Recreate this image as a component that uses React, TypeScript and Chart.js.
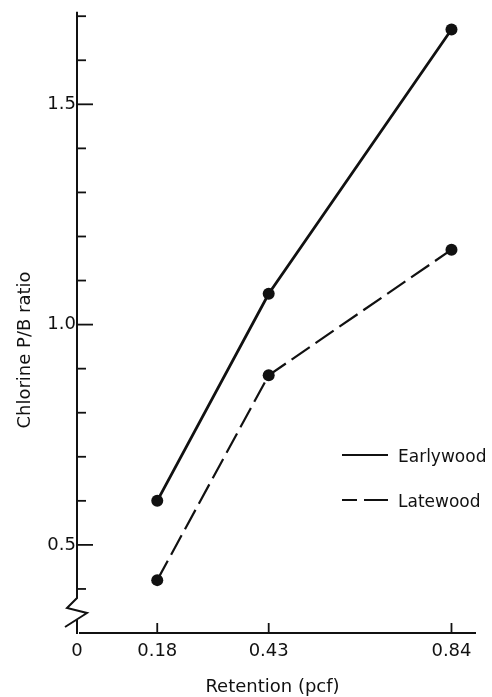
import React, { useEffect, useRef } from "react";
import { Chart, registerables } from "chart.js";

Chart.register(...registerables);

// ---- data ----
const retention = [0.18, 0.43, 0.84];
const earlywood = [0.6, 1.07, 1.67];
const latewood = [0.42, 0.885, 1.17];

const xTickValues = [0, 0.18, 0.43, 0.84];
const xTickLabels = ["0", "0.18", "0.43", "0.84"];
const yTickValues = [0.4, 0.5, 0.6, 0.7, 0.8, 0.9, 1.0, 1.1, 1.2, 1.3, 1.4, 1.5, 1.6, 1.7];
const yLabelValues = [0.5, 1.0, 1.5];
const yLabelTexts = ["0.5", "1.0", "1.5"];
const seriesNames = ["Earlywood", "Latewood"];
const xTitle = "Retention (pcf)";
const yTitle = "Chlorine P/B ratio";

const INK = "#111";
const FONT = "'DejaVu Sans', sans-serif";

const near = (a: number, b: number) => Math.abs(a - b) < 1e-6;

const decorPlugin = {
  id: "decor",
  afterDraw(chart: any) {
    const ctx = chart.ctx as CanvasRenderingContext2D;
    const xs = chart.scales.x;
    const ys = chart.scales.y;
    const { left, right, top, bottom } = chart.chartArea;
    ctx.save();
    ctx.strokeStyle = INK;
    ctx.fillStyle = INK;
    ctx.lineWidth = 2;
    ctx.lineCap = "butt";
    ctx.setLineDash([]);

    // x axis
    ctx.beginPath();
    ctx.moveTo(left + 2, bottom);
    ctx.lineTo(right, bottom);
    ctx.stroke();

    // y axis with break
    ctx.beginPath();
    ctx.moveTo(left, top);
    ctx.lineTo(left, bottom - 35);
    ctx.lineTo(left - 10, bottom - 25);
    ctx.lineTo(left + 10, bottom - 20);
    ctx.lineTo(left - 12, bottom - 6);
    ctx.stroke();
    ctx.beginPath();
    ctx.moveTo(left, bottom - 13);
    ctx.lineTo(left, bottom + 1);
    ctx.stroke();

    // y tick marks (inside)
    ctx.lineWidth = 1.8;
    yTickValues.forEach((v) => {
      const py = ys.getPixelForValue(v);
      const major = yLabelValues.some((m) => near(m, v));
      ctx.beginPath();
      ctx.moveTo(left, py);
      ctx.lineTo(left + (major ? 16 : 9), py);
      ctx.stroke();
    });

    // x tick marks (inside)
    xTickValues.forEach((v) => {
      if (v === 0) return;
      const px = xs.getPixelForValue(v);
      ctx.beginPath();
      ctx.moveTo(px, bottom);
      ctx.lineTo(px, bottom - 10);
      ctx.stroke();
    });

    // titles
    ctx.font = `18px ${FONT}`;
    ctx.textAlign = "center";
    ctx.textBaseline = "middle";
    ctx.fillText(xTitle, (left + right) / 2 - 4, 687);
    ctx.save();
    ctx.translate(25, 350);
    ctx.rotate(-Math.PI / 2);
    ctx.fillText(yTitle, 0, 0);
    ctx.restore();

    // legend
    ctx.font = `17px ${FONT}`;
    ctx.textAlign = "left";
    ctx.lineWidth = 1.8;
    const legendY = [455, 500];
    seriesNames.forEach((name, i) => {
      const ly = legendY[i];
      ctx.beginPath();
      if (i === 1) {
        ctx.moveTo(342, ly);
        ctx.lineTo(357, ly);
        ctx.moveTo(364, ly);
        ctx.lineTo(388, ly);
      } else {
        ctx.moveTo(342, ly);
        ctx.lineTo(388, ly);
      }
      ctx.stroke();
      ctx.fillText(name, 398, ly + 3);
    });

    ctx.restore();
  },
};

export default function App() {
  const ref = useRef<HTMLCanvasElement | null>(null);

  useEffect(() => {
    if (!ref.current) return;
    const chart = new Chart(ref.current, {
      type: "line",
      data: {
        datasets: [
          {
            label: seriesNames[0],
            data: retention.map((x, i) => ({ x, y: earlywood[i] })),
            borderColor: INK,
            backgroundColor: INK,
            borderWidth: 2.8,
            pointRadius: 6,
            pointBorderWidth: 0,
            pointBackgroundColor: INK,
            tension: 0,
          },
          {
            label: seriesNames[1],
            data: retention.map((x, i) => ({ x, y: latewood[i] })),
            borderColor: INK,
            backgroundColor: INK,
            borderWidth: 2.2,
            borderDash: [22, 7],
            pointRadius: 6,
            pointBorderWidth: 0,
            pointBackgroundColor: INK,
            tension: 0,
          },
        ],
      },
      options: {
        animation: false,
        responsive: false,
        clip: false as any,
        layout: { padding: { top: 8, right: 16, left: 0, bottom: 0 }, autoPadding: false } as any,
        plugins: {
          legend: { display: false },
          tooltip: { enabled: false },
        },
        scales: {
          x: {
            type: "linear",
            min: 0,
            max: 0.895,
            grid: { display: false, drawTicks: false },
            border: { display: false },
            afterFit: (s: any) => {
              s.height = 64;
            },
            afterBuildTicks: (s: any) => {
              s.ticks = xTickValues.map((v) => ({ value: v }));
            },
            ticks: {
              padding: 8,
              color: INK,
              font: { family: FONT, size: 18 },
              maxRotation: 0,
              autoSkip: false,
              callback: (v: any) => {
                const i = xTickValues.findIndex((t) => near(t, Number(v)));
                return i >= 0 ? xTickLabels[i] : "";
              },
            },
          },
          y: {
            type: "linear",
            min: 0.3,
            max: 1.71,
            grid: { display: false, drawTicks: false },
            border: { display: false },
            afterFit: (s: any) => {
              s.width = 77;
            },
            afterBuildTicks: (s: any) => {
              s.ticks = yTickValues.map((v) => ({ value: v }));
            },
            ticks: {
              padding: 1,
              color: INK,
              font: { family: FONT, size: 18 },
              autoSkip: false,
              callback: (v: any) => {
                const i = yLabelValues.findIndex((t) => near(t, Number(v)));
                return i >= 0 ? yLabelTexts[i] : "";
              },
            },
          },
        },
      },
      plugins: [decorPlugin],
    });
    return () => chart.destroy();
  }, []);

  return (
    <div style={{ position: "absolute", left: 0, top: 0, width: 492, height: 697, background: "#fff" }}>
      <canvas ref={ref} width={492} height={697} style={{ display: "block", width: 492, height: 697 }} />
    </div>
  );
}
